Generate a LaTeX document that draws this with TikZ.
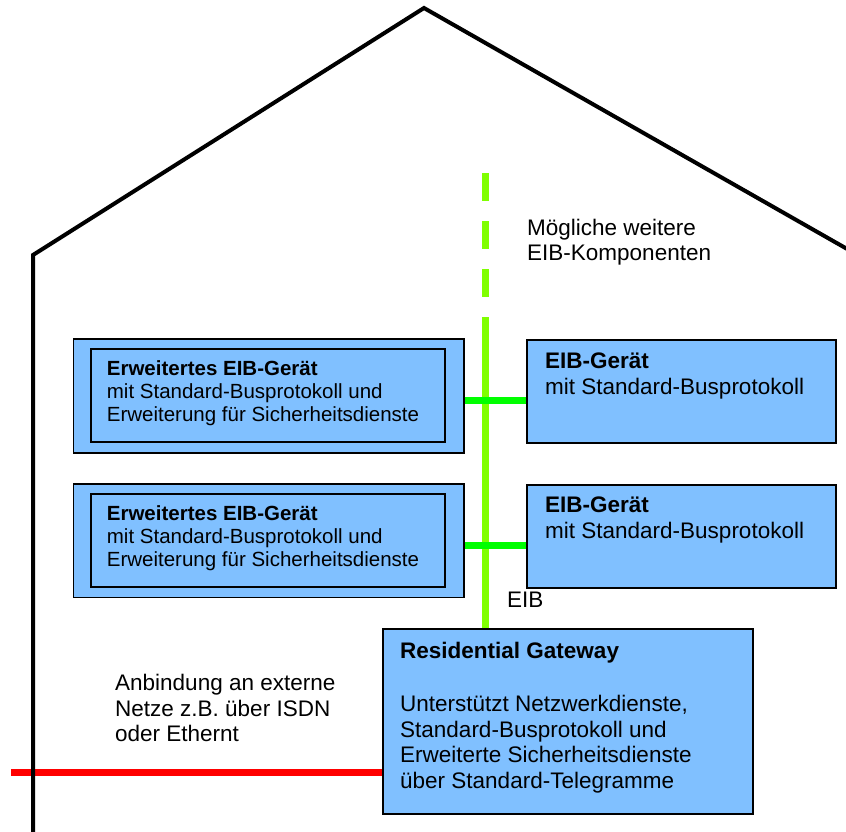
\documentclass[tikz,border=0pt]{standalone}
\usepackage{fontspec}
\setmainfont{Liberation Sans}
\definecolor{boxblue}{RGB}{128,192,255}
\definecolor{busgreen}{RGB}{128,255,0}
\definecolor{linkgreen}{RGB}{0,255,0}
\definecolor{netred}{RGB}{255,0,0}
\begin{document}
\begin{tikzpicture}[x=1pt,y=-1pt,
  box/.style={draw=black,line width=1.6pt,fill=boxblue,rectangle,inner sep=0pt,anchor=north west},
  inbox/.style={draw=black,line width=1.6pt,rectangle,inner sep=0pt,anchor=north west},
  smalltext/.style={anchor=base west,inner sep=0pt,align=left,font=\fontsize{20.5}{23}\selectfont},
  bigtext/.style={anchor=base west,inner sep=0pt,align=left,font=\fontsize{22.5}{25.5}\selectfont},
  bus/.style={line width=7pt,busgreen},
  link/.style={line width=7pt,linkgreen},
  house/.style={line width=4pt,black,line join=miter},
  extnet/.style={line width=7pt,netred}]
\useasboundingbox (0,0) rectangle (846,831);
\clip (0,0) rectangle (846,831);
\fill[white] (0,0) rectangle (846,831);

% bus (behind boxes)
\coordinate (busDashTop) at (485.5,173);
\coordinate (busTop) at (485.5,317);
\draw[bus,dash pattern=on 28pt off 20pt] (busDashTop) -- (busTop);

% boxes
\node[box,minimum width=390.3pt,minimum height=114pt] (lb1) at (72.7,338) {};
\node[inbox,minimum width=354pt,minimum height=93pt] (lb1i) at (90,348) {};
\node[box,minimum width=390.3pt,minimum height=113.4pt] (lb2) at (72.7,483.3) {};
\node[inbox,minimum width=354pt,minimum height=92.7pt] (lb2i) at (90,493.3) {};
\node[box,minimum width=309pt,minimum height=103pt] (rb1) at (526,339) {};
\node[box,minimum width=309pt,minimum height=103pt] (rb2) at (526,484) {};
\node[box,minimum width=370pt,minimum height=185pt] (gw) at (382,628) {};

\draw[bus] (busTop) -- (busTop |- gw.north);

% links
\coordinate (link1) at (485.5,400.7);
\coordinate (link2) at (485.5,545.7);
\draw[link] (lb1.east |- link1) -- (rb1.west |- link1);
\draw[link] (lb2.east |- link2) -- (rb2.west |- link2);

% external network
\coordinate (netEnd) at (11,772);
\draw[extnet] (netEnd) -- (gw.west |- netEnd);

% house
\coordinate (apex) at (424,8);
\coordinate (leftEave) at (33,255);
\coordinate (leftFoot) at (33,840);
\coordinate (rightEave) at (863,258);
\draw[house] (leftFoot) -- (leftEave) -- (apex) -- (rightEave);

% texts (base anchor = baseline of last line)
\node[smalltext] (lt1) at (106.7,421.7) {\textbf{Erweitertes EIB-Gerät}\\mit Standard-Busprotokoll und\\Erweiterung für Sicherheitsdienste};
\node[smalltext] (lt2) at (106.7,566.7) {\textbf{Erweitertes EIB-Gerät}\\mit Standard-Busprotokoll und\\Erweiterung für Sicherheitsdienste};
\node[bigtext] (rt1) at (545,394) {\textbf{EIB-Gerät}\\mit Standard-Busprotokoll};
\node[bigtext] (rt2) at (545,538) {\textbf{EIB-Gerät}\\mit Standard-Busprotokoll};
\node[bigtext] (gwt) at (400,658) {\textbf{Residential Gateway}};
\node[bigtext] (gwb) at (400,788) {Unterstützt Netzwerkdienste,\\Standard-Busprotokoll und\\Erweiterte Sicherheitsdienste\\über Standard-Telegramme};
\node[bigtext] (more) at (527,260.7) {Mögliche weitere\\EIB-Komponenten};
\node[bigtext] (eib) at (507,607) {EIB};
\node[bigtext] (ext) at (115,741.7) {Anbindung an externe\\Netze z.B. über ISDN\\oder Ethernt};
\end{tikzpicture}
\end{document}
